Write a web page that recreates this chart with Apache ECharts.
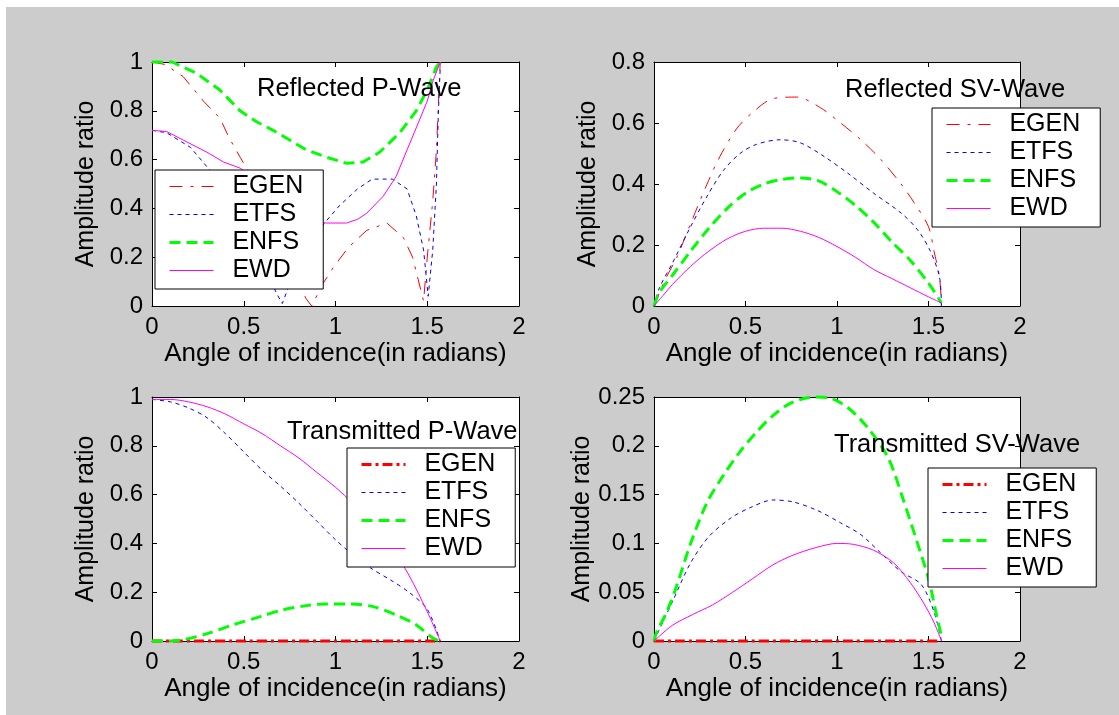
<!DOCTYPE html>
<html>
<head>
<meta charset="utf-8">
<script src="https://cdn.jsdelivr.net/npm/echarts@6/dist/echarts.min.js"></script>
<style>html,body{margin:0;padding:0;background:#fff;}#c{width:1119px;height:715px;}</style>
</head>
<body>
<div id="c"></div>
<script>
// ---------- data (x in radians, amplitude ratio) ----------
const seriesNames = ['EGEN', 'ETFS', 'ENFS', 'EWD'];
const panelTitles = ['Reflected P-Wave', 'Reflected SV-Wave', 'Transmitted P-Wave', 'Transmitted SV-Wave'];
const xLabelText = 'Angle of incidence(in radians)';
const yLabelText = 'Amplitude ratio';
const xRange = [0, 2, 0.5];
const yRanges = [[0, 1, 0.2], [0, 0.8, 0.2], [0, 1, 0.2], [0, 0.25, 0.05]];

// Reflected P-Wave
const rpEGEN = [[0,1],[0.07,0.99],[0.17,0.94],[0.28,0.84],[0.37,0.77],[0.42,0.69],[0.48,0.61],[0.55,0.52],[0.6,0.44],[0.65,0.35],[0.7,0.26],[0.75,0.17],[0.8,0.09],[0.84,0.03],[0.87,0],[0.93,0.09],[0.99,0.16],[1.07,0.24],[1.17,0.31],[1.28,0.34],[1.37,0.28],[1.42,0.2],[1.45,0.11],[1.48,0.02],[1.5,0.2],[1.53,0.43],[1.55,0.64],[1.5708,1]];
const rpETFS = [[0,0.72],[0.08,0.71],[0.21,0.65],[0.3,0.57],[0.35,0.53],[0.4,0.47],[0.45,0.41],[0.5,0.35],[0.55,0.27],[0.6,0.19],[0.65,0.1],[0.68,0.05],[0.71,0.01],[0.74,0.07],[0.8,0.16],[0.87,0.26],[0.94,0.34],[1.02,0.41],[1.12,0.48],[1.2,0.52],[1.31,0.52],[1.39,0.48],[1.44,0.37],[1.48,0.23],[1.505,0.04],[1.53,0.23],[1.55,0.5],[1.56,0.78],[1.5708,0.98]];
const rpENFS = [[0,1],[0.11,1],[0.24,0.955],[0.37,0.885],[0.48,0.8],[0.57,0.755],[0.66,0.72],[0.75,0.68],[0.84,0.64],[0.95,0.61],[1.06,0.585],[1.15,0.59],[1.24,0.63],[1.35,0.71],[1.44,0.8],[1.5,0.885],[1.55,0.98],[1.5708,1]];
const rpEWD = [[0,0.72],[0.08,0.715],[0.17,0.68],[0.3,0.63],[0.39,0.59],[0.48,0.565],[0.55,0.53],[0.6,0.5],[0.65,0.47],[0.7,0.44],[0.75,0.41],[0.8,0.38],[0.85,0.36],[0.9,0.345],[0.95,0.34],[1.06,0.34],[1.12,0.355],[1.17,0.38],[1.26,0.45],[1.33,0.53],[1.39,0.64],[1.44,0.73],[1.5,0.84],[1.53,0.92],[1.5708,1]];

// Reflected SV-Wave
const rsEGEN = [[0,0],[0.06,0.085],[0.125,0.16],[0.2,0.27],[0.29,0.4],[0.36,0.49],[0.45,0.58],[0.53,0.63],[0.65,0.68],[0.78,0.685],[0.91,0.65],[1.02,0.6],[1.13,0.545],[1.24,0.48],[1.35,0.4],[1.42,0.34],[1.5,0.26],[1.53,0.18],[1.56,0.095],[1.5708,0]];
const rsETFS = [[0,0],[0.03,0.06],[0.1,0.14],[0.2,0.26],[0.29,0.36],[0.38,0.445],[0.47,0.5],[0.56,0.53],[0.69,0.545],[0.8,0.535],[0.93,0.49],[1.06,0.435],[1.2,0.37],[1.35,0.305],[1.44,0.25],[1.51,0.18],[1.56,0.095],[1.5708,0]];
const rsENFS = [[0,0],[0.03,0.045],[0.1,0.1],[0.2,0.18],[0.3,0.255],[0.4,0.32],[0.5,0.37],[0.6,0.4],[0.7,0.415],[0.8,0.42],[0.9,0.41],[1.0,0.375],[1.1,0.33],[1.2,0.275],[1.3,0.21],[1.4,0.15],[1.5,0.075],[1.5708,0.01]];
const rsEWD = [[0,0],[0.05,0.035],[0.1,0.07],[0.2,0.13],[0.3,0.18],[0.4,0.22],[0.5,0.245],[0.6,0.255],[0.7,0.255],[0.8,0.245],[0.9,0.225],[1.0,0.195],[1.1,0.16],[1.2,0.12],[1.3,0.09],[1.4,0.06],[1.5,0.03],[1.5708,0.01]];

// Transmitted P-Wave
const tpEGEN = [[0,0],[0.5,0],[1,0],[1.5708,0]];
const tpETFS = [[0,0.99],[0.1,0.98],[0.2,0.955],[0.3,0.915],[0.4,0.85],[0.5,0.775],[0.6,0.7],[0.7,0.635],[0.8,0.565],[0.9,0.49],[1.0,0.415],[1.1,0.35],[1.2,0.295],[1.3,0.25],[1.4,0.2],[1.5,0.13],[1.5708,0]];
const tpENFS = [[0,0],[0.1,0],[0.17,0.005],[0.3,0.03],[0.44,0.066],[0.59,0.1],[0.71,0.127],[0.84,0.145],[0.95,0.152],[1.08,0.152],[1.21,0.14],[1.33,0.107],[1.44,0.066],[1.53,0.012],[1.5708,0]];
const tpEWD = [[0,0.99],[0.1,0.99],[0.2,0.98],[0.3,0.96],[0.4,0.93],[0.5,0.89],[0.6,0.85],[0.7,0.8],[0.8,0.75],[0.9,0.69],[1.0,0.63],[1.1,0.56],[1.2,0.48],[1.3,0.39],[1.4,0.27],[1.5,0.12],[1.5708,0]];

// Transmitted SV-Wave
const tsEGEN = [[0,0],[0.5,0],[1,0],[1.5708,0]];
const tsETFS = [[0,0],[0.05,0.02],[0.1,0.04],[0.2,0.08],[0.3,0.107],[0.42,0.126],[0.53,0.137],[0.65,0.1445],[0.76,0.1425],[0.89,0.134],[1.02,0.121],[1.13,0.109],[1.24,0.09],[1.35,0.071],[1.46,0.058],[1.53,0.03],[1.5708,0]];
const tsENFS = [[0,0],[0.015,0.009],[0.07,0.03],[0.125,0.057],[0.2,0.1],[0.29,0.142],[0.38,0.17],[0.47,0.194],[0.56,0.214],[0.65,0.231],[0.75,0.244],[0.87,0.25],[0.96,0.249],[1.06,0.239],[1.17,0.218],[1.28,0.1875],[1.36,0.146],[1.44,0.1],[1.5,0.064],[1.54,0.03],[1.5708,0.005]];
const tsEWD = [[0,0],[0.1,0.016],[0.21,0.027],[0.32,0.037],[0.43,0.05],[0.54,0.064],[0.65,0.078],[0.76,0.088],[0.89,0.096],[1.0,0.1],[1.09,0.099],[1.2,0.093],[1.31,0.08],[1.4,0.06],[1.47,0.04],[1.53,0.019],[1.5708,0]];

const panelData = [
  [rpEGEN, rpETFS, rpENFS, rpEWD],
  [rsEGEN, rsETFS, rsENFS, rsEWD],
  [tpEGEN, tpETFS, tpENFS, tpEWD],
  [tsEGEN, tsETFS, tsENFS, tsEWD]
];

// ---------- layout / style ----------
const FONT = 'Liberation Sans, Arial, sans-serif';
const grids = [
  {left: 152, top: 62, width: 367, height: 244},
  {left: 654, top: 62, width: 366, height: 244},
  {left: 152, top: 397, width: 367, height: 244},
  {left: 654, top: 397, width: 366, height: 244}
];
const titlePos = [
  {left: 257, top: 76}, {left: 845, top: 77}, {left: 287, top: 419}, {left: 834, top: 432}
];
const legendPos = [
  {left: 155, top: 170}, {left: 932, top: 108}, {left: 347, top: 448}, {left: 928, top: 468}
];
const smoothBy = [0, 0.3, 0.3, 0.3];
const colors = ['#ff0000', '#0000ff', '#00ff00', '#ff00ff'];
function lineStyleFor(si, pi) {
  if (si === 0) {
    const thick = pi >= 2;
    return {color: colors[0], width: thick ? 3 : 1, type: thick ? [10, 4, 3, 4] : [13, 8, 3, 8]};
  }
  if (si === 1) return {color: colors[1], width: 1, type: [4, 4]};
  if (si === 2) return {color: colors[2], width: 3, type: [11, 6]};
  return {color: colors[3], width: 1, type: 'solid'};
}

const xAxes = [], yAxes = [], series = [], titles = [], legends = [];
const tickStyle = {show: true, inside: true, length: 5, lineStyle: {color: '#000', width: 1}};
const lineAx = {show: true, onZero: false, lineStyle: {color: '#000', width: 1}};
const hiddenSymbol = {color: 'rgba(255,255,255,0)', borderColor: 'rgba(255,255,255,0)', borderWidth: 0};

grids.forEach((g, pi) => {
  const yr = yRanges[pi];
  xAxes.push({
    type: 'value', gridIndex: pi, position: 'bottom', min: xRange[0], max: xRange[1], interval: xRange[2],
    axisLine: lineAx, axisTick: tickStyle, splitLine: {show: false},
    axisLabel: {color: '#000', fontSize: 24, fontFamily: FONT, margin: 9},
    name: xLabelText, nameLocation: 'middle', nameGap: 35,
    nameTextStyle: {color: '#000', fontSize: 26, fontFamily: FONT}
  });
  xAxes.push({
    type: 'value', gridIndex: pi, position: 'top', min: xRange[0], max: xRange[1], interval: xRange[2],
    axisLine: lineAx, axisTick: tickStyle, splitLine: {show: false}, axisLabel: {show: false}
  });
  yAxes.push({
    type: 'value', gridIndex: pi, position: 'left', min: yr[0], max: yr[1], interval: yr[2],
    axisLine: lineAx, axisTick: tickStyle, splitLine: {show: false},
    axisLabel: {color: '#000', fontSize: 24, fontFamily: FONT, margin: 9},
    name: yLabelText, nameLocation: 'middle', nameGap: 53,
    nameTextStyle: {color: '#000', fontSize: 25, fontFamily: FONT}
  });
  yAxes.push({
    type: 'value', gridIndex: pi, position: 'right', min: yr[0], max: yr[1], interval: yr[2],
    axisLine: lineAx, axisTick: tickStyle, splitLine: {show: false}, axisLabel: {show: false}
  });
  const names = seriesNames.map(n => n + '|' + pi);
  panelData[pi].forEach((d, si) => {
    const ls = lineStyleFor(si, pi);
    series.push({
      type: 'line', name: names[si], data: d,
      xAxisIndex: pi * 2, yAxisIndex: pi * 2,
      symbol: 'none', showSymbol: false, smooth: smoothBy[pi], clip: false,
      color: ls.color, itemStyle: {color: ls.color},
      lineStyle: ls, z: 2,
      emphasis: {disabled: true}, silent: true
    });
  });
  titles.push({
    text: panelTitles[pi], left: titlePos[pi].left, top: titlePos[pi].top, padding: 0,
    textStyle: {color: '#000', fontSize: 25.5, fontWeight: 'normal', fontFamily: FONT}
  });
  legends.push({
    orient: 'vertical', left: legendPos[pi].left, top: legendPos[pi].top, z: 10,
    itemWidth: 44, itemHeight: 14, itemGap: 3, padding: [4, 20, 6, 13],
    borderColor: '#000', borderWidth: 1, backgroundColor: '#fff', selectedMode: false,
    formatter: name => '  ' + name.split('|')[0],
    itemStyle: hiddenSymbol,
    textStyle: {color: '#000', fontSize: 25, fontFamily: FONT, lineHeight: 24},
    data: names.map((n, si) => {
      const ls = lineStyleFor(si, pi);
      return {name: n, itemStyle: hiddenSymbol, lineStyle: {color: ls.color, width: ls.width, type: ls.type}};
    })
  });
});

const chart = echarts.init(document.getElementById('c'), null, {renderer: 'canvas'});
chart.setOption({
  animation: false,
  backgroundColor: '#ffffff',
  graphic: [{type: 'rect', silent: true, z: -100, shape: {x: 6, y: 7, width: 1113, height: 708}, style: {fill: '#cccccc'}}],
  title: titles,
  legend: legends,
  grid: grids.map(g => Object.assign({show: true, backgroundColor: '#ffffff', borderWidth: 0}, g)),
  xAxis: xAxes,
  yAxis: yAxes,
  series: series
});
</script>
</body>
</html>
